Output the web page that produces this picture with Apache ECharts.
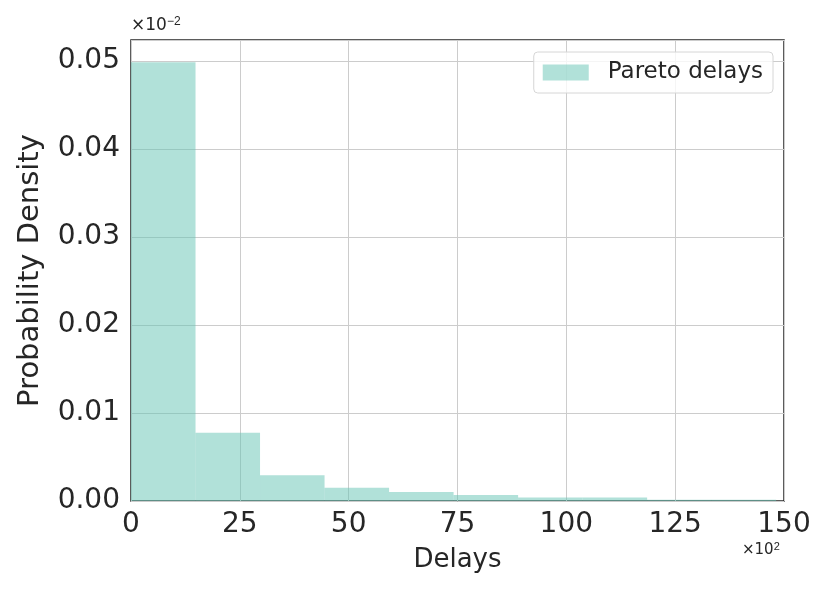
<!DOCTYPE html>
<html>
<head>
<meta charset="utf-8">
<script src="https://cdn.jsdelivr.net/npm/echarts@6/dist/echarts.min.js"></script>
<style>
  html, body { margin: 0; padding: 0; background: #fff; }
  #chart { width: 830px; height: 593px; }
</style>
</head>
<body>
<div id="chart"></div>
<script>
// histogram bins (delays, in units of 10^2) and their density (x10^-2 shown on axis)
var binEdges = [0, 14.82, 29.64, 44.46, 59.28, 74.1, 88.92, 103.74, 118.56, 133.38, 148.2];
var densities = [0.04984, 0.00774, 0.00293, 0.0015, 0.00103, 0.00068, 0.00041, 0.0004, 0.00015, 0.00015];
var xTicks = [0, 25, 50, 75, 100, 125, 150];
var yTicks = [0, 0.01, 0.02, 0.03, 0.04, 0.05];

var txt = '#262626';
var font = 'DejaVu Sans';

var histData = [];
for (var i = 0; i < densities.length; i++) {
  histData.push([binEdges[i], binEdges[i + 1], densities[i]]);
}

var chart = echarts.init(document.getElementById('chart'));
var option = {
  animation: false,
  textStyle: { fontFamily: font, color: txt },
  grid: {
    left: 131, right: 46, top: 40, bottom: 92,
    show: true, borderColor: txt, borderWidth: 1.5
  },
  legend: {
    right: 57, top: 52,
    padding: [9, 10, 9, 9],
    borderColor: '#d6d6d6', borderWidth: 1, borderRadius: 4,
    backgroundColor: 'rgba(255,255,255,0.8)',
    itemWidth: 46, itemHeight: 16,
    textStyle: { fontSize: 23, color: txt, fontFamily: font, padding: [2, 0, 0, 14] },
    data: [{ name: 'Pareto delays', icon: 'rect' }]
  },
  xAxis: {
    type: 'value', min: 0, max: 150, interval: 25,
    name: 'Delays', nameLocation: 'middle', nameGap: 46,
    nameTextStyle: { fontSize: 26, color: txt, fontFamily: font },
    axisLine: { show: false }, axisTick: { show: false },
    axisLabel: {
      fontSize: 28, color: txt, fontFamily: font, margin: 10,
      customValues: xTicks
    },
    splitLine: { show: true, lineStyle: { color: '#cccccc', width: 1 } }
  },
  yAxis: {
    type: 'value', min: 0, max: 0.05236, interval: 0.01,
    name: 'Probability Density', nameLocation: 'middle', nameGap: 86,
    nameTextStyle: { fontSize: 29, color: txt, fontFamily: font },
    axisLine: { show: false }, axisTick: { show: false },
    axisLabel: {
      fontSize: 28, color: txt, fontFamily: font, margin: 11,
      padding: [5, 0, 0, 0],
      customValues: yTicks,
      formatter: function (v) { return v.toFixed(2); }
    },
    splitLine: { show: true, lineStyle: { color: '#cccccc', width: 1 } }
  },
  series: [{
    name: 'Pareto delays',
    type: 'custom',
    itemStyle: { color: 'rgba(99,195,180,0.5)' },
    data: histData,
    encode: { x: [0, 1], y: 2 },
    clip: true,
    renderItem: function (params, api) {
      var p0 = api.coord([api.value(0), api.value(2)]);
      var p1 = api.coord([api.value(1), 0]);
      return {
        type: 'rect',
        shape: { x: p0[0], y: p0[1], width: p1[0] - p0[0], height: p1[1] - p0[1] },
        style: { fill: 'rgba(99,195,180,0.5)' }
      };
    }
  }],
  graphic: [
    {
      type: 'text', left: 131, top: 16,
      style: {
        text: '×10{sup|−2}',
        font: '17px DejaVu Sans', fill: txt,
        rich: { sup: { fontSize: 12, verticalAlign: 'top', padding: [0, 0, 8, 0], fill: txt } }
      }
    },
    {
      type: 'text', left: 742, top: 541,
      style: {
        text: '×10{sup|2}',
        font: '15px DejaVu Sans', fill: txt,
        rich: { sup: { fontSize: 11, verticalAlign: 'top', padding: [0, 0, 7, 0], fill: txt } }
      }
    }
  ]
};
chart.setOption(option);
window.addEventListener('resize', function () { chart.resize(); });
</script>
</body>
</html>
